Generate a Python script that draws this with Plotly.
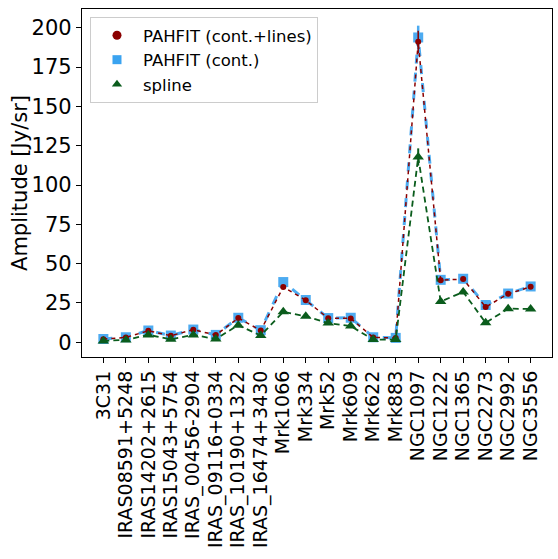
import plotly.graph_objects as go

categories = ["3C31", "IRAS08591+5248", "IRAS14202+2615", "IRAS15043+5754",
              "IRAS_00456-2904", "IRAS_09116+0334", "IRAS_10190+1322",
              "IRAS_16474+3430", "Mrk1066", "Mrk334", "Mrk52", "Mrk609",
              "Mrk622", "Mrk883", "NGC1097", "NGC1222", "NGC1365",
              "NGC2273", "NGC2992", "NGC3556"]

pahfit_lines = [2.0, 3.1, 7.3, 4.2, 8.0, 4.6, 15.4, 7.5, 35.2, 26.7, 15.3, 15.2,
                3.1, 2.7, 191.0, 39.5, 40.2, 22.4, 30.8, 35.3]
pahfit_lines_err = [0.3, 0.3, 0.5, 0.4, 0.5, 0.4, 0.8, 0.5, 1.0, 0.8, 0.6, 0.6,
                    0.3, 0.3, 7.0, 1.0, 1.0, 0.8, 0.9, 0.9]
pahfit_cont = [2.1, 3.2, 7.5, 4.3, 8.1, 4.7, 15.6, 7.7, 38.3, 26.9, 15.4, 15.6,
               3.2, 2.8, 193.8, 39.7, 40.4, 23.7, 31.0, 35.5]
pahfit_cont_err = [0.3, 0.3, 0.5, 0.4, 0.5, 0.4, 0.8, 0.5, 1.0, 0.8, 0.6, 0.6,
                   0.3, 0.3, 7.5, 1.0, 1.0, 0.8, 0.9, 0.9]
spline = [0.9, 1.5, 4.7, 1.9, 4.7, 2.1, 10.9, 4.3, 19.4, 16.5, 12.2, 10.3,
          1.7, 1.7, 117.8, 25.9, 32.0, 12.4, 21.4, 21.2]
spline_err = [0.2, 0.2, 0.4, 0.3, 0.4, 0.3, 0.6, 0.4, 0.8, 0.7, 0.6, 0.5,
              0.2, 0.2, 5.5, 0.8, 0.9, 0.6, 0.8, 0.8]

y_ticks = [0, 25, 50, 75, 100, 125, 150, 175, 200]
y_title = "Amplitude [Jy/sr]"

RED = "#8b0000"
BLUE = "#3aa3f0"
GREEN = "#0a5c1c"
FONT = "DejaVu Sans"

x = list(range(len(categories)))

fig = go.Figure()

fig.add_trace(go.Scatter(
    x=x, y=pahfit_cont, mode="lines+markers",
    line=dict(color=BLUE, width=3, dash="dash"),
    marker=dict(symbol="square", size=10, color=BLUE),
    error_y=dict(type="data", array=pahfit_cont_err, color=BLUE, thickness=2.5, width=0),
    opacity=0.9, showlegend=False))
fig.add_trace(go.Scatter(
    x=x, y=pahfit_lines, mode="lines+markers",
    line=dict(color=RED, width=1.5, dash="4px,4px"),
    marker=dict(symbol="circle", size=6, color=RED),
    error_y=dict(type="data", array=pahfit_lines_err, color=RED, thickness=1.5, width=0),
    showlegend=False))
fig.add_trace(go.Scatter(
    x=x, y=spline, mode="lines+markers",
    line=dict(color=GREEN, width=1.8, dash="6px,4px"),
    marker=dict(symbol="triangle-up", size=10, color=GREEN),
    error_y=dict(type="data", array=spline_err, color=GREEN, thickness=2, width=0),
    showlegend=False))

for name, sym, col, sz in [("PAHFIT (cont.+lines)", "circle", RED, 9),
                           ("PAHFIT (cont.)", "square", BLUE, 9),
                           ("spline", "triangle-up", GREEN, 9)]:
    fig.add_trace(go.Scatter(x=[None], y=[None], mode="markers", name=name,
                             marker=dict(symbol=sym, size=sz, color=col)))

fig.update_layout(
    width=558, height=559,
    margin=dict(l=82, r=6, t=9, b=202),
    paper_bgcolor="white", plot_bgcolor="white",
    font=dict(family=FONT, size=20, color="black"),
    showlegend=True,
    legend=dict(x=0.017, y=0.977, xanchor="left", yanchor="top",
                bgcolor="rgba(255,255,255,0.9)", bordercolor="#cccccc", borderwidth=1,
                font=dict(size=16.5, family=FONT), itemwidth=42,
                tracegroupgap=0),
    annotations=[dict(text=y_title, xref="paper", yref="paper",
                      x=-0.132, y=0.5, xanchor="center", yanchor="middle",
                      textangle=-90, showarrow=False,
                      font=dict(size=21, family=FONT, color="black"))],
)
fig.update_xaxes(
    range=[-0.95, 19.95], tickmode="array", tickvals=x, ticktext=categories,
    tickangle=-90, ticks="outside", ticklen=5, tickcolor="black",
    showline=True, linecolor="black", linewidth=1.2, mirror=True,
    showgrid=False, zeroline=False, tickfont=dict(size=19), automargin=False)
fig.update_yaxes(
    range=[-9.35, 211.9], tickmode="array", tickvals=y_ticks,
    ticks="outside", ticklen=5, tickcolor="black",
    showline=True, linecolor="black", linewidth=1.2, mirror=True,
    showgrid=False, zeroline=False, tickfont=dict(size=21), automargin=False)

fig.write_html("out.html", config={"displayModeBar": False},
               post_script="document.body.style.margin='0';document.body.style.padding='0';")
